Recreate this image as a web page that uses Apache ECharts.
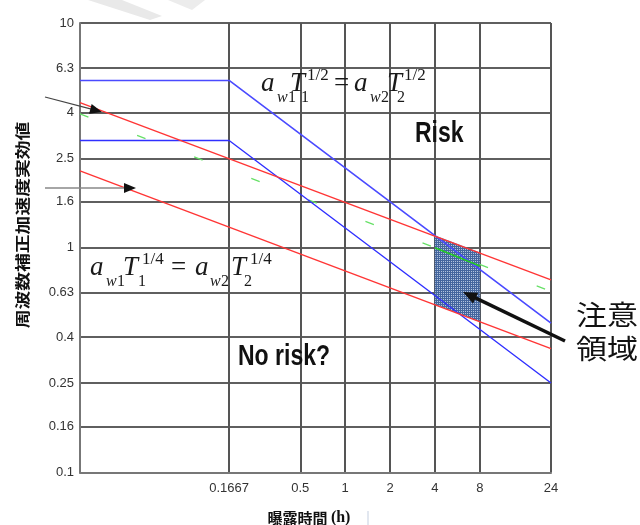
<!DOCTYPE html>
<html>
<head>
<meta charset="utf-8">
<script src="https://cdn.jsdelivr.net/npm/echarts@6/dist/echarts.min.js"></script>
<style>
html,body{margin:0;padding:0;background:#fff;}
#chart{width:640px;height:525px;}
</style>
</head>
<body>
<div id="chart"></div>
<script>
// axis ticks (log scales, hours / m/s2)
var xTicks = [0.1667, 0.5, 1, 2, 4, 8, 24];
var xTickLabels = ['0.1667', '0.5', '1', '2', '4', '8', '24'];
var yTicks = [0.1, 0.16, 0.25, 0.4, 0.63, 1, 1.6, 2.5, 4, 6.3, 10];
var yTickLabels = ['0.1', '0.16', '0.25', '0.4', '0.63', '1', '1.6', '2.5', '4', '6.3', '10'];
var tRange = [1 / 60, 24];
var aRange = [0.1, 10];

// boundary lines [T, aw]
var blueUpper = [[1 / 60, 5.55], [0.1667, 5.55], [24, 0.462]];
var blueLower = [[1 / 60, 3.0], [0.1667, 3.0], [24, 0.25]];
var redUpper = [[1 / 60, 4.42], [24, 0.72]];
var redLower = [[1 / 60, 2.2], [24, 0.356]];
var greenMid = [[1 / 60, 3.94], [24, 0.64]];
var greenInZone = [[4, 1.0], [8, 0.83]];

// caution zone (4h - 8h)
var zoneX = [4, 8];
var zoneTop = [1.13, 0.95];
var zoneBottom = [0.56, 0.47];

var chart = echarts.init(document.getElementById('chart'), null, {renderer: 'canvas'});

function pickLabel(ticks, labels) {
    return function (v) {
        for (var i = 0; i < ticks.length; i++) {
            if (Math.abs(Math.log(v / ticks[i])) < 1e-3) return labels[i];
        }
        return '';
    };
}

// checker texture for the zone
var pc = document.createElement('canvas');
pc.width = 4; pc.height = 4;
var pctx = pc.getContext('2d');
pctx.fillStyle = '#44669e';
pctx.fillRect(0, 0, 4, 4);
pctx.fillStyle = '#b2c4e0';
pctx.fillRect(1, 1, 1, 1);
pctx.fillRect(3, 3, 1, 1);
pctx.fillRect(1, 3, 1, 1);
pctx.fillRect(3, 1, 1, 1);

function mkLine(data, color, width, z, type) {
    return {
        type: 'line', data: data, showSymbol: false, symbol: 'none', silent: true, z: z,
        lineStyle: {color: color, width: width, type: type || 'solid'},
        animation: false
    };
}

function arrow(x1, y1, x2, y2, color, lw, headColor, hl, hw) {
    var dx = x2 - x1, dy = y2 - y1, len = Math.sqrt(dx * dx + dy * dy);
    var ux = dx / len, uy = dy / len;
    var bx = x2 - ux * hl, by = y2 - uy * hl;
    return [
        {type: 'line', z: 100, shape: {x1: x1, y1: y1, x2: bx + ux * 2, y2: by + uy * 2}, style: {stroke: color, lineWidth: lw}},
        {type: 'polygon', z: 100, shape: {points: [[x2, y2], [bx - uy * hw, by + ux * hw], [bx + uy * hw, by - ux * hw]]}, style: {fill: headColor}}
    ];
}

function txt(s, x, base, size, opt) {
    opt = opt || {};
    return {
        type: 'text', z: 100, x: x, y: base - 0.34 * size, scaleX: opt.sx || 1, scaleY: opt.sy || 1,
        style: {
            text: s, fill: opt.color || '#1a1a1a', fontSize: size,
            fontFamily: opt.family || '"Liberation Serif", "DejaVu Serif", serif',
            fontStyle: opt.style || 'italic', fontWeight: opt.weight || 'normal',
            align: 'left', verticalAlign: 'middle'
        }
    };
}

var up = {style: 'normal'};
var formulaHalf = [
    txt('a', 261, 93, 27), txt('w', 277, 103, 16), txt('1', 288, 103, 16, up), txt('T', 290, 93, 27),
    txt('1/2', 307, 81, 17, up), txt('1', 301, 103, 16, up),
    txt('=', 334, 93, 27, up),
    txt('a', 354, 93, 27), txt('w', 370, 103, 16), txt('2', 381, 103, 16, up), txt('T', 387, 93, 27),
    txt('1/2', 404, 81, 17, up), txt('2', 397, 103, 16, up)
];
var formulaQuarter = [
    txt('a', 90, 277, 27), txt('w', 106, 287, 16), txt('1', 117, 287, 16, up), txt('T', 123, 277, 27),
    txt('1/4', 142, 265, 17, up), txt('1', 138, 287, 16, up),
    txt('=', 171, 277, 27, up),
    txt('a', 195, 277, 27), txt('w', 210, 287, 16), txt('2', 221, 287, 16, up), txt('T', 231, 277, 27),
    txt('1/4', 250, 265, 17, up), txt('2', 244, 287, 16, up)
];

var graphics = [
    // faint watermark strokes at the top
    {type: 'polygon', shape: {points: [[88, 0], [122, 0], [162, 16], [150, 20]]}, style: {fill: '#e9e9e9'}, z: -1},
    {type: 'polygon', shape: {points: [[168, 0], [205, 0], [192, 10]]}, style: {fill: '#ececec'}, z: -1},
    // y axis name
    {
        type: 'text', x: 22, y: 225, rotation: Math.PI / 2, scaleX: 1.25,
        style: {
            text: '周波数補正加速度実効値', fill: '#111', fontSize: 15, fontWeight: 'bold',
            fontFamily: '"Noto Sans CJK JP", sans-serif', align: 'center', verticalAlign: 'middle'
        }
    },
    // x axis name
    {
        type: 'text', x: 309, y: 518,
        style: {
            text: '{a|曝露時間} {b|(h)}', align: 'center', verticalAlign: 'middle',
            rich: {
                a: {fontSize: 15, fontWeight: 'bold', fontFamily: '"Noto Sans CJK JP", sans-serif', fill: '#111'},
                b: {fontSize: 16, fontWeight: 'bold', fontFamily: '"Liberation Serif", serif', fill: '#111'}
            }
        }
    },
    {type: 'line', shape: {x1: 368, y1: 511, x2: 368, y2: 525}, style: {stroke: '#c5cfe0', lineWidth: 1}},
    // region labels
    {
        type: 'text', z: 100, x: 415, y: 134, scaleY: 1.3,
        style: {text: 'Risk', fill: '#111', fontSize: 23, fontWeight: 'bold', fontFamily: '"Liberation Sans", Arial, sans-serif', align: 'left', verticalAlign: 'middle'}
    },
    {
        type: 'text', z: 100, x: 238, y: 357, scaleY: 1.3,
        style: {text: 'No risk?', fill: '#111', fontSize: 23, fontWeight: 'bold', fontFamily: '"Liberation Sans", Arial, sans-serif', align: 'left', verticalAlign: 'middle'}
    },
    {
        type: 'text', x: 576, y: 315, scaleX: 1.15,
        style: {text: '注意', fill: '#111', fontSize: 27, fontFamily: '"Noto Sans CJK JP", sans-serif', align: 'left', verticalAlign: 'middle'}
    },
    {
        type: 'text', x: 576, y: 349, scaleX: 1.15,
        style: {text: '領域', fill: '#111', fontSize: 27, fontFamily: '"Noto Sans CJK JP", sans-serif', align: 'left', verticalAlign: 'middle'}
    }
].concat(formulaHalf, formulaQuarter,
    arrow(45, 97, 102, 112, '#444', 1.2, '#111', 12, 5),
    arrow(45, 188, 136, 188, '#888', 1.5, '#111', 12, 5),
    arrow(565, 341, 463, 292, '#111', 3.5, '#111', 14, 6)
);

var option = {
    animation: false,
    backgroundColor: '#fff',
    grid: {left: 80, right: 89, top: 23, bottom: 52.5, outerBoundsMode: 'none'},
    xAxis: {
        type: 'log', logBase: 10, min: tRange[0], max: tRange[1],
        axisLine: {show: true, lineStyle: {color: '#777', width: 2}},
        axisTick: {show: false, customValues: xTicks},
        axisLabel: {
            customValues: xTicks, formatter: pickLabel(xTicks, xTickLabels),
            color: '#333', fontSize: 13, fontFamily: '"Liberation Sans", Arial, sans-serif', margin: 9
        },
        splitLine: {show: true, lineStyle: {color: '#555', width: 2}},
        minorTick: {show: false}, minorSplitLine: {show: false}
    },
    yAxis: {
        type: 'log', logBase: 10, min: aRange[0], max: aRange[1],
        axisLine: {show: true, lineStyle: {color: '#777', width: 2}},
        axisTick: {show: false, customValues: yTicks},
        axisLabel: {
            customValues: yTicks, formatter: pickLabel(yTicks, yTickLabels),
            color: '#333', fontSize: 13, fontFamily: '"Liberation Sans", Arial, sans-serif', margin: 6
        },
        splitLine: {show: true, lineStyle: {color: '#2a2a2a', width: 1.5}},
        minorTick: {show: false}, minorSplitLine: {show: false}
    },
    series: [
        {
            type: 'custom', z: 1, silent: true, clip: true,
            data: zoneX.map(function (x, i) { return [x, zoneBottom[i], zoneTop[i]]; }),
            encode: {x: 0, y: [1, 2]},
            renderItem: function (params, api) {
                if (params.dataIndex !== 0) return;
                var pts = [], i;
                for (i = 0; i < zoneX.length; i++) pts.push(api.coord([zoneX[i], zoneTop[i]]));
                for (i = zoneX.length - 1; i >= 0; i--) pts.push(api.coord([zoneX[i], zoneBottom[i]]));
                return {
                    type: 'polygon', shape: {points: pts},
                    style: {fill: {image: pc, repeat: 'repeat'}, stroke: '#44669e', lineWidth: 0.5}
                };
            }
        },
        mkLine(greenMid, '#66e066', 1.2, 2, [9, 52]),
        mkLine(blueUpper, '#4a4aff', 1.6, 3),
        mkLine(blueLower, '#3030ff', 1.4, 3),
        mkLine(redUpper, '#ff3535', 1.4, 3),
        mkLine(redLower, '#ff3535', 1.4, 3),
        mkLine(greenInZone, '#22cc22', 1.5, 4)
    ],
    graphic: graphics
};

chart.setOption(option);
window.onresize = chart.resize;
</script>
</body>
</html>
